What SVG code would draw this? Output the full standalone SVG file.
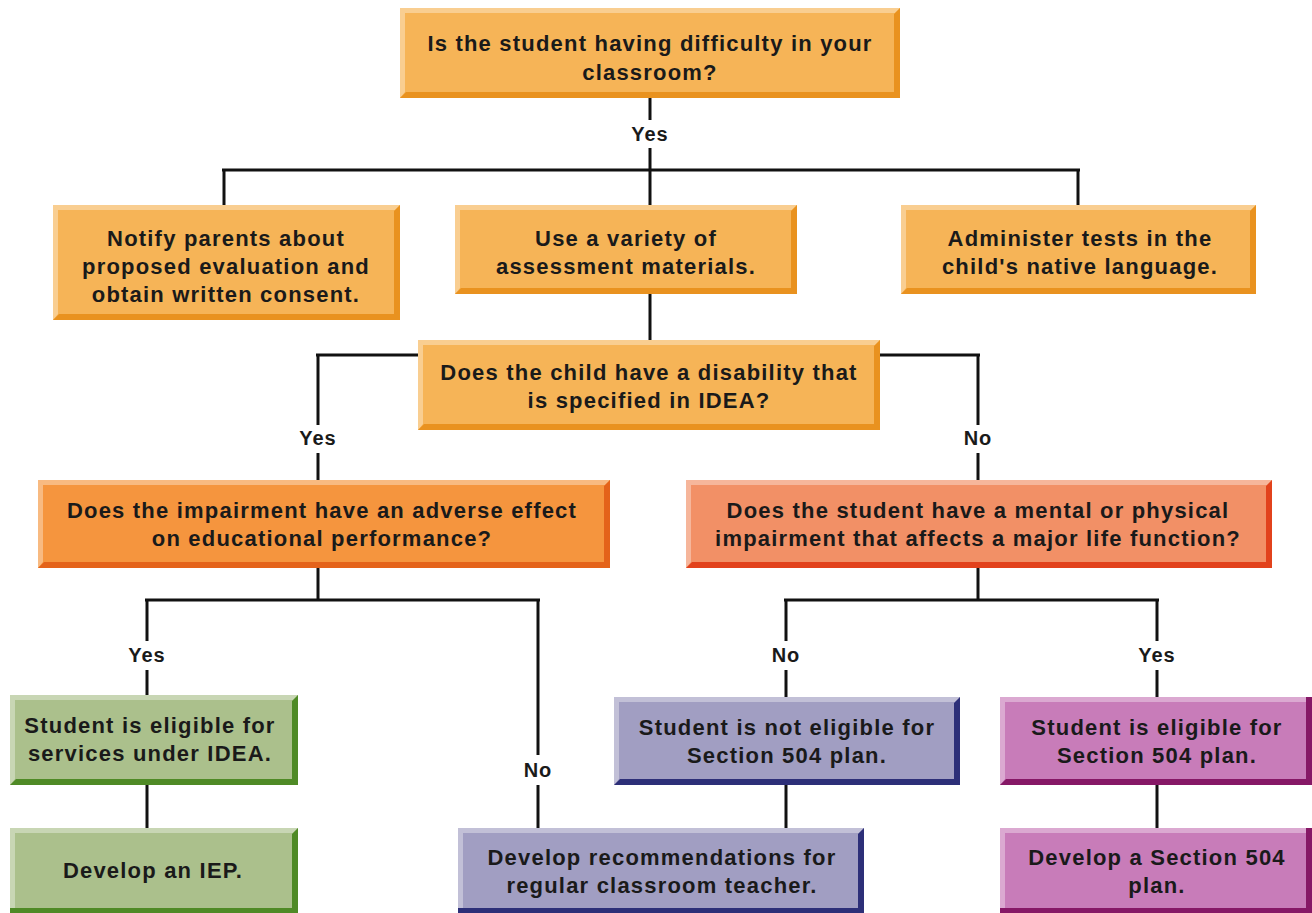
<svg xmlns="http://www.w3.org/2000/svg" width="1312" height="913" viewBox="0 0 1312 913">
<style>
text{font-family:"Liberation Sans",Arial,sans-serif;font-weight:bold;font-size:22px;letter-spacing:1.2px;fill:#1a1a1a;text-anchor:middle}
.lbl{font-size:20px;letter-spacing:1px}
.c line{stroke:#111;stroke-width:3}
.hl{fill:#ffffff;opacity:0.35}
.o1{fill:#f6b457}.o1d{fill:#e9921f}
.o2{fill:#f5953e}.o2d{fill:#e4631a}
.o3{fill:#f29066}.o3d{fill:#e2421c}
.g{fill:#abc08c}.gd{fill:#4f8a26}
.p{fill:#a19ec2}.pd{fill:#2d2f78}
.m{fill:#c87cb9}.md{fill:#861866}
</style>
<rect width="1312" height="913" fill="#ffffff"/>
<g class="c" id="connectors">
<line x1="650" y1="98" x2="650" y2="120"/>
<line x1="650" y1="148" x2="650" y2="171"/>
<line x1="222" y1="170" x2="1080" y2="170"/>
<line x1="224" y1="169" x2="224" y2="205"/>
<line x1="650" y1="169" x2="650" y2="205"/>
<line x1="1078" y1="169" x2="1078" y2="205"/>
<line x1="650" y1="294" x2="650" y2="340"/>
<line x1="316" y1="355" x2="418" y2="355"/>
<line x1="318" y1="354" x2="318" y2="425"/>
<line x1="318" y1="453" x2="318" y2="480"/>
<line x1="880" y1="355" x2="980" y2="355"/>
<line x1="978" y1="354" x2="978" y2="425"/>
<line x1="978" y1="453" x2="978" y2="480"/>
<line x1="318" y1="568" x2="318" y2="601"/>
<line x1="145" y1="600" x2="540" y2="600"/>
<line x1="147" y1="599" x2="147" y2="641"/>
<line x1="147" y1="670" x2="147" y2="695"/>
<line x1="538" y1="599" x2="538" y2="755"/>
<line x1="538" y1="785" x2="538" y2="828"/>
<line x1="978" y1="568" x2="978" y2="601"/>
<line x1="784" y1="600" x2="1159" y2="600"/>
<line x1="786" y1="599" x2="786" y2="641"/>
<line x1="786" y1="670" x2="786" y2="697"/>
<line x1="1157" y1="599" x2="1157" y2="641"/>
<line x1="1157" y1="670" x2="1157" y2="697"/>
<line x1="147" y1="785" x2="147" y2="828"/>
<line x1="786" y1="785" x2="786" y2="828"/>
<line x1="1157" y1="785" x2="1157" y2="828"/>
<text class="lbl" x="650" y="141">Yes</text>
<text class="lbl" x="318" y="445">Yes</text>
<text class="lbl" x="978" y="445">No</text>
<text class="lbl" x="147" y="662">Yes</text>
<text class="lbl" x="538" y="777">No</text>
<text class="lbl" x="786" y="662">No</text>
<text class="lbl" x="1157" y="662">Yes</text>
</g>
<g id="n1">
<rect class="o1" x="400" y="8" width="500" height="90"/>
<polygon class="hl" points="400,8 900,8 895,13 405,13 405,92 400,98"/>
<polygon class="o1d" points="400,98 900,98 900,8 894,14 894,92 406,92"/>
<text x="650" y="51">Is the student having difficulty in your</text>
<text x="650" y="80">classroom?</text>
</g>
<g id="n2">
<rect class="o1" x="53" y="205" width="347" height="115"/>
<polygon class="hl" points="53,205 400,205 395,210 58,210 58,314 53,320"/>
<polygon class="o1d" points="53,320 400,320 400,205 394,211 394,314 59,314"/>
<text x="226" y="246">Notify parents about</text>
<text x="226" y="274">proposed evaluation and</text>
<text x="226" y="302">obtain written consent.</text>
</g>
<g id="n3">
<rect class="o1" x="455" y="205" width="342" height="89"/>
<polygon class="hl" points="455,205 797,205 792,210 460,210 460,288 455,294"/>
<polygon class="o1d" points="455,294 797,294 797,205 791,211 791,288 461,288"/>
<text x="626" y="246">Use a variety of</text>
<text x="626" y="274">assessment materials.</text>
</g>
<g id="n4">
<rect class="o1" x="901" y="205" width="355" height="89"/>
<polygon class="hl" points="901,205 1256,205 1251,210 906,210 906,288 901,294"/>
<polygon class="o1d" points="901,294 1256,294 1256,205 1250,211 1250,288 907,288"/>
<text x="1080" y="246">Administer tests in the</text>
<text x="1080" y="274">child's native language.</text>
</g>
<g id="n5">
<rect class="o1" x="418" y="340" width="462" height="90"/>
<polygon class="hl" points="418,340 880,340 875,345 423,345 423,424 418,430"/>
<polygon class="o1d" points="418,430 880,430 880,340 874,346 874,424 424,424"/>
<text x="649" y="380">Does the child have a disability that</text>
<text x="649" y="408">is specified in IDEA?</text>
</g>
<g id="n6">
<rect class="o2" x="38" y="480" width="572" height="88"/>
<polygon class="hl" points="38,480 610,480 605,485 43,485 43,562 38,568"/>
<polygon class="o2d" points="38,568 610,568 610,480 604,486 604,562 44,562"/>
<text x="322" y="518">Does the impairment have an adverse effect</text>
<text x="322" y="546">on educational performance?</text>
</g>
<g id="n7">
<rect class="o3" x="686" y="480" width="586" height="88"/>
<polygon class="hl" points="686,480 1272,480 1267,485 691,485 691,562 686,568"/>
<polygon class="o3d" points="686,568 1272,568 1272,480 1266,486 1266,562 692,562"/>
<text x="978" y="518">Does the student have a mental or physical</text>
<text x="978" y="546">impairment that affects a major life function?</text>
</g>
<g id="n8">
<rect class="g" x="10" y="695" width="288" height="90"/>
<polygon class="hl" points="10,695 298,695 293,700 15,700 15,779 10,785"/>
<polygon class="gd" points="10,785 298,785 298,695 292,701 292,779 16,779"/>
<text x="150" y="733">Student is eligible for</text>
<text x="150" y="761">services under IDEA.</text>
</g>
<g id="n9">
<rect class="g" x="10" y="828" width="288" height="90"/>
<polygon class="hl" points="10,828 298,828 293,833 15,833 15,913 10,913"/>
<polygon class="gd" points="298,913 298,828 292,834 292,913"/>
<polygon class="gd" points="10,908 298,908 298,913 10,913"/>
<text x="153" y="878">Develop an IEP.</text>
</g>
<g id="n10">
<rect class="p" x="614" y="697" width="346" height="88"/>
<polygon class="hl" points="614,697 960,697 955,702 619,702 619,779 614,785"/>
<polygon class="pd" points="614,785 960,785 960,697 954,703 954,779 620,779"/>
<text x="787" y="735">Student is not eligible for</text>
<text x="787" y="763">Section 504 plan.</text>
</g>
<g id="n11">
<rect class="p" x="458" y="828" width="406" height="90"/>
<polygon class="hl" points="458,828 864,828 859,833 463,833 463,913 458,913"/>
<polygon class="pd" points="864,913 864,828 858,834 858,913"/>
<polygon class="pd" points="458,908 864,908 864,913 458,913"/>
<text x="662" y="865">Develop recommendations for</text>
<text x="662" y="893">regular classroom teacher.</text>
</g>
<g id="n12">
<rect class="m" x="1000" y="697" width="312" height="88"/>
<polygon class="hl" points="1000,697 1312,697 1312,702 1005,702 1005,779 1000,785"/>
<polygon class="md" points="1000,785 1312,785 1312,779 1006,779"/>
<polygon class="md" points="1306,697 1312,697 1312,785 1306,785"/>
<text x="1157" y="735">Student is eligible for</text>
<text x="1157" y="763">Section 504 plan.</text>
</g>
<g id="n13">
<rect class="m" x="1000" y="828" width="312" height="90"/>
<polygon class="hl" points="1000,828 1312,828 1312,833 1005,833 1005,913 1000,913"/>
<polygon class="md" points="1306,828 1312,828 1312,913 1306,913"/>
<polygon class="md" points="1000,908 1312,908 1312,913 1000,913"/>
<text x="1157" y="865">Develop a Section 504</text>
<text x="1157" y="893">plan.</text>
</g>
</svg>
